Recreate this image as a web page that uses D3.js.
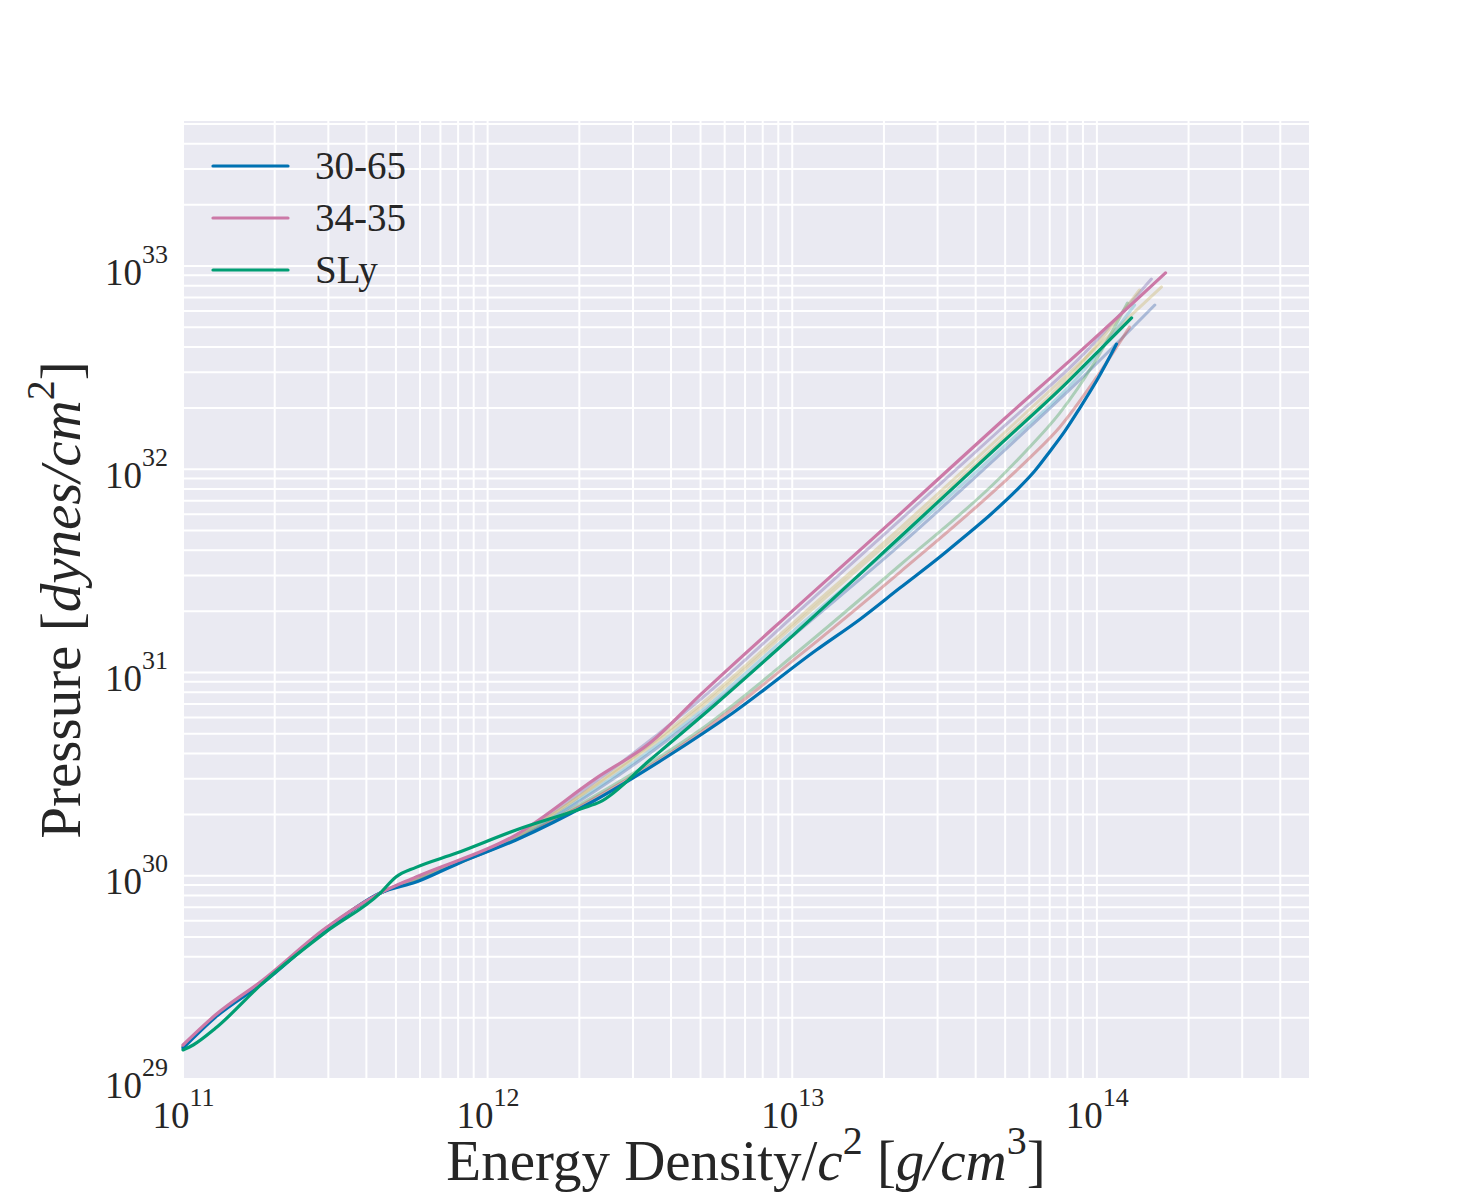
<!DOCTYPE html>
<html>
<head>
<meta charset="utf-8">
<script src="https://cdn.jsdelivr.net/npm/d3@7"></script>
<style>
  body { margin: 0; background: #fff; }
  text { font-family: "Liberation Serif", "DejaVu Serif", serif; fill: #262626; }
</style>
</head>
<body>
<div id="chart"></div>
<script>
// axis limits
const xLimits = [1e11, 4.97e14];
const yLimits = [1e29, 5.17e33];
const xMajor = [1e11, 1e12, 1e13, 1e14];
const yMajor = [1e29, 1e30, 1e31, 1e32, 1e33];

// highlighted equations of state
const e3065 = [1.00e11, 1.28e11, 1.83e11, 2.94e11, 4.44e11, 5.82e11, 8.11e11, 1.24e12, 2.17e12, 3.87e12, 6.38e12, 1.20e13, 1.67e13, 2.26e13, 3.05e13, 3.63e13, 4.46e13, 5.46e13, 6.25e13, 7.00e13, 7.85e13, 8.79e13, 1.01e14, 1.16e14];
const p3065 = [1.42e29, 2.02e29, 2.97e29, 5.40e29, 8.22e29, 9.31e29, 1.16e30, 1.50e30, 2.28e30, 3.84e30, 6.32e30, 1.29e31, 1.83e31, 2.61e31, 3.70e31, 4.59e31, 5.96e31, 7.91e31, 9.80e31, 1.22e32, 1.54e32, 2.00e32, 2.81e32, 4.13e32];

const e3435 = [1.00e11, 1.28e11, 1.83e11, 2.94e11, 4.44e11, 5.82e11, 1.24e12, 2.28e12, 3.41e12, 4.98e12, 1.06e13, 2.26e13, 4.80e13, 9.00e13, 1.68e14];
const p3435 = [1.47e29, 2.07e29, 3.07e29, 5.53e29, 8.22e29, 9.86e29, 1.59e30, 3.03e30, 4.50e30, 7.74e30, 2.17e31, 6.03e31, 1.69e32, 3.91e32, 9.25e32];

const eSLy = [1.00e11, 1.08e11, 1.28e11, 1.83e11, 2.94e11, 4.44e11, 5.00e11, 5.82e11, 7.87e11, 1.24e12, 2.05e12, 2.34e12, 3.41e12, 5.66e12, 8.89e12, 2.26e13, 4.80e13, 7.96e13, 1.02e14, 1.30e14];
const pSLy = [1.39e29, 1.47e29, 1.78e29, 2.97e29, 5.28e29, 8.22e29, 9.86e29, 1.10e30, 1.29e30, 1.68e30, 2.15e30, 2.31e30, 3.71e30, 7.08e30, 1.29e31, 4.64e31, 1.32e32, 2.66e32, 3.86e32, 5.55e32];

// background equations of state (drawn faint)
const eBgA = [1.00e11, 1.28e11, 1.83e11, 2.94e11, 4.44e11, 5.82e11, 1.24e12, 2.28e12, 4.98e12, 1.06e13, 2.26e13, 4.80e13, 8.79e13, 1.55e14];
const pBgA = [1.44e29, 2.04e29, 3.02e29, 5.45e29, 8.20e29, 9.70e29, 1.53e30, 2.64e30, 6.18e30, 1.62e31, 4.24e31, 1.18e32, 2.75e32, 6.43e32];
const eBgB = [1.00e11, 1.28e11, 1.83e11, 2.94e11, 4.44e11, 5.82e11, 1.24e12, 2.28e12, 4.98e12, 1.06e13, 2.26e13, 4.80e13, 6.03e13, 7.55e13, 9.84e13, 1.26e14];
const pBgB = [1.44e29, 2.04e29, 3.02e29, 5.45e29, 8.20e29, 9.60e29, 1.52e30, 2.50e30, 5.21e30, 1.29e31, 3.38e31, 9.06e31, 1.29e32, 1.89e32, 3.37e32, 6.58e32];
const eBgC = [1.00e11, 1.28e11, 1.83e11, 2.94e11, 4.44e11, 5.82e11, 1.24e12, 2.28e12, 4.98e12, 1.06e13, 2.26e13, 4.80e13, 6.03e13, 7.55e13, 9.84e13, 1.28e14];
const pBgC = [1.44e29, 2.04e29, 3.02e29, 5.45e29, 8.20e29, 9.60e29, 1.52e30, 2.44e30, 5.04e30, 1.22e31, 3.12e31, 8.28e31, 1.14e32, 1.61e32, 2.75e32, 5.01e32];
const eBgD = [1.00e11, 1.28e11, 1.83e11, 2.94e11, 4.44e11, 5.82e11, 1.24e12, 2.28e12, 4.98e12, 1.06e13, 2.26e13, 4.80e13, 8.79e13, 1.51e14];
const pBgD = [1.45e29, 2.05e29, 3.03e29, 5.50e29, 8.22e29, 9.80e29, 1.57e30, 2.93e30, 7.33e30, 2.03e31, 5.62e31, 1.56e32, 3.53e32, 8.63e32];
const eBgE = [1.00e11, 1.28e11, 1.83e11, 2.94e11, 4.44e11, 5.82e11, 1.24e12, 2.28e12, 4.98e12, 1.06e13, 2.26e13, 4.80e13, 8.79e13, 1.63e14];
const pBgE = [1.45e29, 2.05e29, 3.03e29, 5.48e29, 8.22e29, 9.75e29, 1.55e30, 2.83e30, 6.92e30, 1.88e31, 5.14e31, 1.44e32, 3.33e32, 7.89e32];
const eBgF = [1.00e11, 1.28e11, 1.83e11, 2.94e11, 4.44e11, 5.82e11, 1.24e12, 2.28e12, 4.98e12, 1.06e13, 2.26e13, 4.80e13, 8.79e13, 1.33e14];
const pBgF = [1.44e29, 2.04e29, 3.02e29, 5.45e29, 8.20e29, 9.70e29, 1.53e30, 2.70e30, 6.39e30, 1.71e31, 4.49e31, 1.24e32, 2.91e32, 6.43e32];
const eBgG = [1.00e11, 1.28e11, 1.83e11, 2.94e11, 4.44e11, 5.82e11, 1.24e12, 2.28e12, 4.98e12, 1.06e13, 2.26e13, 4.80e13, 8.79e13, 1.38e14];
const pBgG = [1.45e29, 2.05e29, 3.03e29, 5.47e29, 8.21e29, 9.72e29, 1.55e30, 2.80e30, 6.69e30, 1.81e31, 4.91e31, 1.36e32, 3.26e32, 7.62e32];

const bgColors = ["#4C72B0", "#55A868", "#C44E52", "#8172B2", "#CCB974", "#64B5CD", "#CCB974"];
const bgSeries = [[eBgA, pBgA], [eBgB, pBgB], [eBgC, pBgC], [eBgD, pBgD], [eBgE, pBgE], [eBgF, pBgF], [eBgG, pBgG]];

const mainNames = ["30-65", "34-35", "SLy"];
const mainColors = ["#0072B2", "#CC79A7", "#009E73"];
const mainSeries = [[e3065, p3065], [e3435, p3435], [eSLy, pSLy]];

// layout
const W = 1457, H = 1200;
const margin = { top: 121, right: 148, bottom: 121, left: 183 };
const width = W - margin.left - margin.right;
const height = H - margin.top - margin.bottom;

const svg = d3.select("#chart").append("svg")
    .attr("width", W)
    .attr("height", H);

const g = svg.append("g")
    .attr("transform", `translate(${margin.left},${margin.top})`);

const x = d3.scaleLog().domain(xLimits).range([0, width]);
const y = d3.scaleLog().domain(yLimits).range([height, 0]);

// plot background
g.append("rect")
    .attr("width", width)
    .attr("height", height)
    .attr("fill", "#EAEAF2");

// grid, major and minor
g.append("g").selectAll("line")
    .data(x.ticks())
    .join("line")
    .attr("x1", d => x(d)).attr("x2", d => x(d))
    .attr("y1", 0).attr("y2", height)
    .attr("stroke", "#fff").attr("stroke-width", 2);

g.append("g").selectAll("line")
    .data(y.ticks())
    .join("line")
    .attr("y1", d => y(d)).attr("y2", d => y(d))
    .attr("x1", 0).attr("x2", width)
    .attr("stroke", "#fff").attr("stroke-width", 2);

const line = d3.line()
    .x(d => x(d[0]))
    .y(d => y(d[1]))
    .curve(d3.curveMonotoneX);

const toPoints = s => s[0].map((e, i) => [e, s[1][i]]);

// faint background curves
g.append("g").selectAll("path")
    .data(bgSeries)
    .join("path")
    .attr("d", s => line(toPoints(s)))
    .attr("fill", "none")
    .attr("stroke", (s, i) => bgColors[i])
    .attr("stroke-opacity", 0.42)
    .attr("stroke-width", 3)
    .attr("stroke-linejoin", "round")
    .attr("stroke-linecap", "round");

// highlighted curves
g.append("g").selectAll("path")
    .data(mainSeries)
    .join("path")
    .attr("d", s => line(toPoints(s)))
    .attr("fill", "none")
    .attr("stroke", (s, i) => mainColors[i])
    .attr("stroke-width", 3.2)
    .attr("stroke-linejoin", "round")
    .attr("stroke-linecap", "round");

// tick labels as 10^n
function powerLabel(sel) {
    sel.append("tspan").text("10");
    sel.append("tspan")
        .attr("dy", -22)
        .style("font-size", "26px")
        .text(d => Math.round(Math.log10(d)));
}

const gx = g.append("g")
    .attr("transform", `translate(0,${height})`)
    .call(d3.axisBottom(x).tickValues(xMajor).tickSize(0).tickFormat(""));
gx.select(".domain").remove();
gx.selectAll(".tick").append("text")
    .attr("y", 49)
    .attr("text-anchor", "middle")
    .style("font-size", "37px")
    .call(powerLabel);

const gy = g.append("g")
    .call(d3.axisLeft(y).tickValues(yMajor).tickSize(0).tickFormat(""));
gy.select(".domain").remove();
gy.selectAll(".tick").append("text")
    .attr("x", -15)
    .attr("y", 18)
    .attr("text-anchor", "end")
    .style("font-size", "37px")
    .call(powerLabel);

// axis titles
function supPart(t, txt) {
    t.append("tspan").attr("dy", -26).style("font-size", "40px").text(txt);
}
const xt = svg.append("text")
    .attr("x", margin.left + width / 2)
    .attr("y", 1180)
    .attr("text-anchor", "middle")
    .style("font-size", "57px");
xt.append("tspan").text("Energy Density/");
xt.append("tspan").style("font-style", "italic").text("c");
supPart(xt, "2");
xt.append("tspan").attr("dy", 26).text(" [");
xt.append("tspan").style("font-style", "italic").text("g/cm");
supPart(xt, "3");
xt.append("tspan").attr("dy", 26).text("]");

const yt = svg.append("text")
    .attr("transform", `translate(80,${margin.top + height / 2}) rotate(-90)`)
    .attr("text-anchor", "middle")
    .style("font-size", "57px");
yt.append("tspan").text("Pressure [");
yt.append("tspan").style("font-style", "italic").text("dynes/cm");
supPart(yt, "2");
yt.append("tspan").attr("dy", 26).text("]");

// legend
const legend = svg.append("g").attr("transform", "translate(213,166)");
const items = legend.selectAll("g")
    .data(mainNames)
    .join("g")
    .attr("transform", (d, i) => `translate(0,${i * 52})`);
items.append("line")
    .attr("x1", 0).attr("x2", 75)
    .attr("stroke", (d, i) => mainColors[i])
    .attr("stroke-width", 3.2)
    .attr("stroke-linecap", "round");
items.append("text")
    .attr("x", 102)
    .attr("y", 13)
    .style("font-size", "39px")
    .text(d => d);
</script>
</body>
</html>
